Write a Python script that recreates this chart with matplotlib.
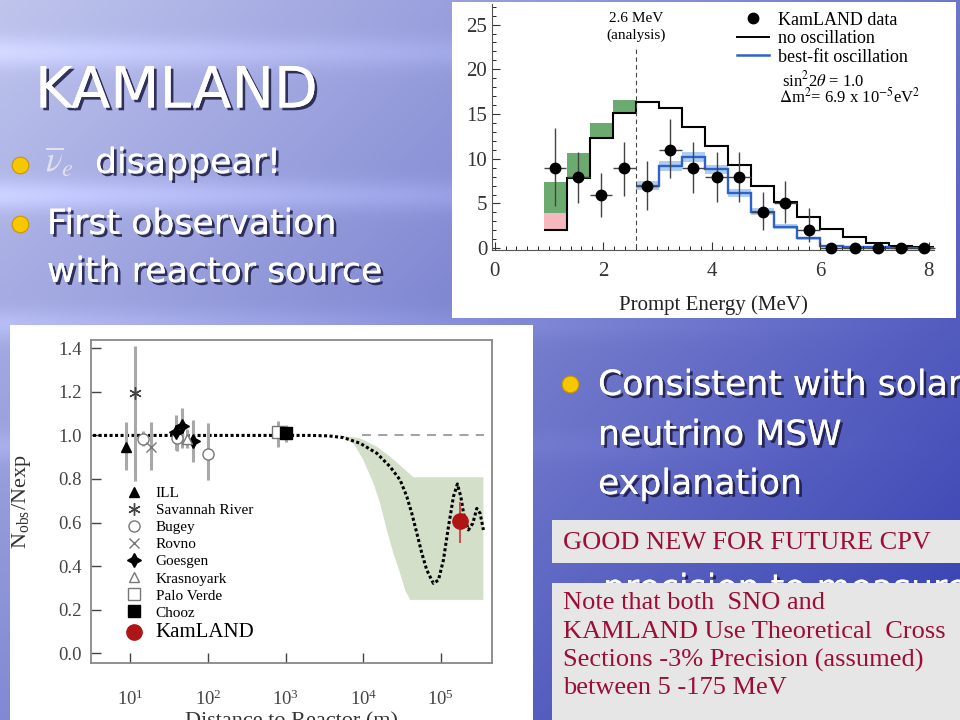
import numpy as np
import matplotlib
matplotlib.use("Agg")
import matplotlib.pyplot as plt
import matplotlib.patheffects as pe
from matplotlib.patches import Rectangle
from matplotlib.lines import Line2D
from matplotlib.ticker import MultipleLocator, NullLocator, FixedLocator

plt.rcParams['font.family'] = ['Liberation Serif', 'DejaVu Serif']
plt.rcParams['mathtext.fontset'] = 'stix'

# ============== Spectrum panel (prompt energy) ==============
bin_edges = [0.9, 1.325, 1.75, 2.175, 2.6, 3.025, 3.45, 3.875, 4.3, 4.725,
             5.15, 5.575, 6.0, 6.425, 6.85, 7.275, 7.7, 8.125]
no_osc = [2.05, 7.8, 12.3, 15.1, 16.4, 15.7, 13.6, 11.4, 9.25, 7.0,
          5.2, 3.5, 2.2, 1.3, 0.55, 0.25, 0.1]
geo_edges = [0.9, 1.325, 1.75, 2.175, 2.6]
geo_green_lo = [3.9, 7.8, 12.3, 15.1]
geo_green_hi = [7.4, 10.6, 14.0, 16.6]
geo_pink_edges = [0.9, 1.325]
geo_pink_lo = [2.05]
geo_pink_hi = [3.9]
fit_edges = [2.6, 3.025, 3.45, 3.875, 4.3, 4.725, 5.15, 5.575, 6.0, 6.425,
             6.85, 7.275, 7.7, 8.125]
best_fit = [7.0, 9.15, 10.2, 8.8, 6.2, 4.1, 2.4, 1.1, 0.2, 0.15, 0.1, 0.05, 0.05]
fit_band = [0.5, 0.55, 0.55, 0.5, 0.45, 0.4, 0.3, 0.2, 0.1, 0.05, 0.05, 0.0, 0.0]
data_e = [1.11, 1.54, 1.96, 2.39, 2.81, 3.24, 3.66, 4.09, 4.51, 4.94,
          5.36, 5.79, 6.21, 6.64, 7.06, 7.49, 7.91]
data_n = [9, 8, 6, 9, 7, 11, 9, 8, 8, 4, 5, 2, 0, 0, 0, 0, 0]
data_lo = [4.7, 5.1, 3.5, 5.8, 4.3, 7.8, 6.2, 5.2, 5.2, 2.0, 2.8, 0.75, 0, 0, 0, 0, 0]
data_hi = [13.4, 10.8, 8.4, 11.9, 9.7, 14.4, 11.9, 10.8, 10.8, 6.3, 7.5, 4.5, 0, 0, 0, 0, 0]

# ============== Ratio panel (distance to reactor) ==============
ill_d, ill_r, ill_lo, ill_hi = [8.75], [0.948], [0.841], [1.063]
sav_d, sav_r, sav_lo, sav_hi = [11.5], [1.196], [0.79], [1.41]
bug_d = [14.7, 39.7, 99.5]
bug_r = [0.983, 0.99, 0.915]
bug_lo = [0.95, 0.93, 0.795]
bug_hi = [1.02, 1.05, 1.056]
rov_d, rov_r, rov_lo, rov_hi = [18.4], [0.948], [0.841], [1.063]
goe_d = [38.5, 46.9, 65.0]
goe_r = [1.017, 1.045, 0.974]
goe_lo = [0.933, 0.94, 0.88]
goe_hi = [1.094, 1.124, 1.07]
kra_d, kra_r, kra_lo, kra_hi = [53.0], [0.985], [0.94], [1.03]
pv_d, pv_r, pv_lo, pv_hi = [792.0], [1.014], [0.945], [1.067]
cho_d, cho_r, cho_lo, cho_hi = [1014.0], [1.01], [0.971], [1.048]
kam_d, kam_r, kam_lo, kam_hi = [1.77e5], [0.609], [0.505], [0.696]

curve_log10_m = [0.45, 2.0, 3.0, 3.315, 3.55, 3.744, 3.959, 4.175, 4.346, 4.475, 4.561,
                 4.625, 4.690, 4.754, 4.818, 4.903, 4.968, 5.032, 5.097, 5.161,
                 5.212, 5.256, 5.299, 5.354, 5.411, 5.462, 5.505, 5.547]
curve_r = [1.0, 1.0, 1.0, 1.0, 0.998, 0.99, 0.964, 0.918, 0.856, 0.795, 0.719,
           0.642, 0.551, 0.459, 0.382, 0.321, 0.336, 0.428, 0.581, 0.719,
           0.777, 0.719, 0.627, 0.566, 0.597, 0.665, 0.642, 0.566]
band_hi_log10_m = [3.702, 3.959, 4.175, 4.346, 4.517, 4.646, 5.547]
band_hi_r = [1.0, 0.987, 0.948, 0.902, 0.849, 0.808, 0.808]
band_lo_log10_m = [3.702, 3.873, 4.002, 4.131, 4.217, 4.303, 4.388, 4.475, 4.539, 4.603, 5.547]
band_lo_r = [1.0, 0.964, 0.887, 0.780, 0.688, 0.566, 0.459, 0.367, 0.290, 0.245, 0.245]

W, H = 960, 720


def fx(px):
    return px / W


def fy(py):
    return 1 - py / H


fig = plt.figure(figsize=(9.6, 7.2), dpi=100)

# slide background
bg = fig.add_axes([0, 0, 1, 1], zorder=-10)
yy, xx = np.mgrid[0:1:144j, 0:1:192j]
t = np.clip(0.6 * xx + 0.45 * yy, 0, 1)
light = np.array([0.75, 0.77, 0.93])
dark = np.array([0.22, 0.26, 0.70])
img = light * (1 - t)[..., None] + dark * t[..., None]
for yc, amp in [(0.07, 0.10), (0.27, 0.12), (0.45, 0.08), (0.62, 0.06)]:
    img += (amp * np.exp(-((yy - yc) / 0.02) ** 2) * (1 - xx))[..., None]
bg.imshow(np.clip(img, 0, 1), extent=[0, 1, 0, 1], aspect='auto', interpolation='bicubic')
bg.axis('off')

shadow = [pe.withSimplePatchShadow(offset=(2, -2), shadow_rgbFace='#1a1a40', alpha=0.85), pe.Normal()]

fig.text(fx(35), fy(92), 'KAMLAND', fontsize=41, color='white', family='DejaVu Sans',
         va='center', path_effects=shadow)


def bullet(px, py):
    fig.add_artist(Line2D([fx(px)], [fy(py)], marker='o', ms=12, color='#f7c800',
                          mec='#c99500', mew=0.8, transform=fig.transFigure))


bullet(20, 165)
fig.text(fx(45), fy(163), r'$\overline{\nu}_e$', fontsize=25, color='#e0e0ee', va='center')
fig.text(fx(95), fy(163), 'disappear!', fontsize=25, color='white', family='DejaVu Sans',
         va='center', path_effects=shadow)
bullet(20, 224)
fig.text(fx(47), fy(224), 'First observation', fontsize=25, color='white', family='DejaVu Sans',
         va='center', path_effects=shadow)
fig.text(fx(47), fy(272), 'with reactor source', fontsize=25, color='white', family='DejaVu Sans',
         va='center', path_effects=shadow)

bullet(570, 384)
fig.text(fx(598), fy(385), 'Consistent with solar', fontsize=25, color='white', family='DejaVu Sans',
         va='center', path_effects=shadow)
fig.text(fx(598), fy(435), 'neutrino MSW', fontsize=25, color='white', family='DejaVu Sans',
         va='center', path_effects=shadow)
fig.text(fx(598), fy(484), 'explanation', fontsize=25, color='white', family='DejaVu Sans',
         va='center', path_effects=shadow)
fig.text(fx(603), fy(599), 'precision to measure', fontsize=25, color='white', family='DejaVu Sans',
         va='baseline', path_effects=shadow, zorder=1)

# grey note boxes
fig.add_artist(Rectangle((fx(552), fy(563)), fx(960 - 552), 43 / H, transform=fig.transFigure,
                         fc='#e6e6e6', ec='none', zorder=5))
fig.add_artist(Rectangle((fx(552), fy(720)), fx(960 - 552), 137 / H, transform=fig.transFigure,
                         fc='#e6e6e6', ec='none', zorder=5))
fig.text(fx(563), fy(543), 'GOOD NEW FOR FUTURE CPV', fontsize=19, color='#9e0c38',
         va='center', zorder=6)
note_lines = ['Note that both  SNO and', 'KAMLAND Use Theoretical  Cross',
              'Sections -3% Precision (assumed)', 'between 5 -175 MeV']
for i, line in enumerate(note_lines):
    fig.text(fx(563), fy(603 + 28.5 * i), line, fontsize=19, color='#9e0c38', va='center', zorder=6)

# white panels behind the two plots
fig.add_artist(Rectangle((fx(452), fy(318)), fx(956 - 452), 316 / H, transform=fig.transFigure,
                         fc='white', ec='none', zorder=2))
fig.add_artist(Rectangle((fx(10), fy(720)), fx(533 - 10), 395 / H, transform=fig.transFigure,
                         fc='white', ec='none', zorder=2))

# ---------------- spectrum axes ----------------
ax1 = fig.add_axes([fx(492), fy(250), fx(934 - 492), 246 / H], zorder=3)
ax1.patch.set_alpha(0)
ax1.stairs(geo_pink_hi, geo_pink_edges, baseline=geo_pink_lo, fill=True, color='#f5b9bd', lw=0)
ax1.stairs(geo_green_hi, geo_edges, baseline=geo_green_lo, fill=True, color='#6cab6f', lw=0)
fit_arr = np.array(best_fit)
band_arr = np.array(fit_band)
ax1.stairs(fit_arr + band_arr, fit_edges, baseline=fit_arr - band_arr, fill=True,
           color='#aecdf3', lw=0)
ax1.stairs(no_osc, bin_edges, baseline=None, color='black', lw=1.5)
ax1.stairs(best_fit, fit_edges, baseline=None, color='#2f62c9', lw=1.7)
ax1.vlines(2.6, 0, 22.6, colors='#444444', linestyles=(0, (4, 3)), lw=0.8)
yerr = [np.array(data_n) - np.array(data_lo), np.array(data_hi) - np.array(data_n)]
ax1.errorbar(data_e, data_n, yerr=yerr, xerr=0.21, fmt='none', ecolor='#444444',
             elinewidth=1.0, clip_on=False)
h_dat, = ax1.plot(data_e, data_n, 'o', color='black', ms=7.5, clip_on=False, zorder=5)
ax1.set_xlim(-0.05, 8.1)
ax1.set_ylim(-0.2, 27.3)
ax1.xaxis.set_major_locator(MultipleLocator(2))
ax1.xaxis.set_minor_locator(MultipleLocator(0.2))
ax1.yaxis.set_major_locator(MultipleLocator(5))
ax1.yaxis.set_minor_locator(MultipleLocator(1))
ax1.tick_params(direction='in', labelsize=15, length=6, width=0.8, colors='#333333')
ax1.tick_params(axis='x', pad=9)
ax1.tick_params(which='minor', direction='in', length=3, width=0.6)
for s in ['top', 'right']:
    ax1.spines[s].set_visible(False)
for s in ['left', 'bottom']:
    ax1.spines[s].set_color('#555555')
ax1.set_xlabel('Prompt Energy (MeV)', fontsize=15, color='#222222', labelpad=10)
ax1.text(2.6, 25.7, '2.6 MeV', ha='center', va='center', fontsize=11)
ax1.text(2.6, 23.8, '(analysis)', ha='center', va='center', fontsize=11)
ax1.legend([h_dat, Line2D([], [], color='black', lw=1.4), Line2D([], [], color='#2f62c9', lw=1.8)],
           ['KamLAND data', 'no oscillation', 'best-fit oscillation'],
           loc='upper left', bbox_to_anchor=(0.525, 1.02), frameon=False, fontsize=13,
           handlelength=1.8, handletextpad=0.5, labelspacing=0.08, borderpad=0.2)
ax1.text(5.3, 18.8, r'sin$^{2}$2$\theta$ = 1.0', fontsize=12, va='center')
ax1.text(5.25, 16.9, r'$\Delta$m$^{2}$= 6.9 x 10$^{-5}$eV$^{2}$', fontsize=12, va='center')

# ---------------- ratio axes ----------------
ax2 = fig.add_axes([fx(91.3), fy(663.3), fx(492.4 - 91.3), 323.3 / H], zorder=3)
ax2.patch.set_alpha(0)
ax2.set_xscale('log')
band_x = list(10 ** np.array(band_hi_log10_m)) + list(10 ** np.array(band_lo_log10_m))[::-1]
band_y = band_hi_r + band_lo_r[::-1]
ax2.fill(band_x, band_y, color='#d4dfc9', lw=0, zorder=1)
ax2.hlines(1.0, 9.5e3, 3.6e5, colors='#9a9a9a', linestyles=(0, (5, 4)), lw=1.3, zorder=2)
ax2.plot(10 ** np.array(curve_log10_m), curve_r, color='black', ls=(0, (1, 0.8)), lw=2.2, zorder=3)

exps = [
    (ill_d, ill_r, ill_lo, ill_hi, dict(marker='^', color='black', ms=7), 'ILL'),
    (sav_d, sav_r, sav_lo, sav_hi, dict(marker=(6, 2, 0), color='#444444', ms=9, mew=1.0), 'Savannah River'),
    (bug_d, bug_r, bug_lo, bug_hi, dict(marker='o', mfc='white', mec='#777777', ms=8, mew=1.0), 'Bugey'),
    (rov_d, rov_r, rov_lo, rov_hi, dict(marker='x', color='#777777', ms=7, mew=1.0), 'Rovno'),
    (goe_d, goe_r, goe_lo, goe_hi, dict(marker=(4, 1, 0), color='black', ms=10), 'Goesgen'),
    (kra_d, kra_r, kra_lo, kra_hi, dict(marker='^', mfc='white', mec='#777777', ms=7, mew=1.0), 'Krasnoyark'),
    (pv_d, pv_r, pv_lo, pv_hi, dict(marker='s', mfc='white', mec='#777777', ms=8, mew=1.0), 'Palo Verde'),
    (cho_d, cho_r, cho_lo, cho_hi, dict(marker='s', color='black', ms=8), 'Chooz'),
]
handles = []
for d, r, lo, hi, style, name in exps:
    err = [np.array(r) - np.array(lo), np.array(hi) - np.array(r)]
    ax2.errorbar(d, r, yerr=err, fmt='none', ecolor='#a8a8a8', elinewidth=2.2, zorder=4)
    h, = ax2.plot(d, r, ls='none', zorder=5, **style)
    handles.append((h, name))
err = [np.array(kam_r) - np.array(kam_lo), np.array(kam_hi) - np.array(kam_r)]
ax2.errorbar(kam_d, kam_r, yerr=err, fmt='none', ecolor='#cc3030', elinewidth=1.2, zorder=4)
h_kam, = ax2.plot(kam_d, kam_r, 'o', color='#b01515', ms=11, zorder=6)
handles.append((h_kam, 'KamLAND'))

ax2.set_xlim(3.15, 4.6e5)
ax2.set_ylim(-0.046, 1.438)
ax2.xaxis.set_major_locator(FixedLocator([1e1, 1e2, 1e3, 1e4, 1e5]))
ax2.xaxis.set_minor_locator(NullLocator())
ax2.yaxis.set_major_locator(MultipleLocator(0.2))
ax2.yaxis.set_major_formatter(matplotlib.ticker.FormatStrFormatter('%.1f'))
ax2.tick_params(direction='in', labelsize=13.5, length=7, width=1.0, colors='#444444', pad=7)
ax2.tick_params(axis='x', pad=19)
for s in ax2.spines.values():
    s.set_color('#888888')
    s.set_linewidth(1.3)
ax2.set_ylabel(r'N$_{\mathregular{obs}}$/Nexp', fontsize=16, color='#333333')
ax2.yaxis.set_label_coords(-0.145, 0.5)
ax2.set_xlabel('Distance to Reactor (m)', fontsize=16, color='#333333')
ax2.xaxis.set_label_coords(0.5, -0.152)
leg2 = ax2.legend([h for h, _ in handles], [n for _, n in handles], loc='upper left',
                  bbox_to_anchor=(0.065, 0.575), frameon=False, fontsize=11, handlelength=1.0,
                  handletextpad=0.9, labelspacing=0.22, borderpad=0.1)
leg2.get_texts()[-1].set_fontsize(15)

fig.savefig('out.png', dpi=100)
